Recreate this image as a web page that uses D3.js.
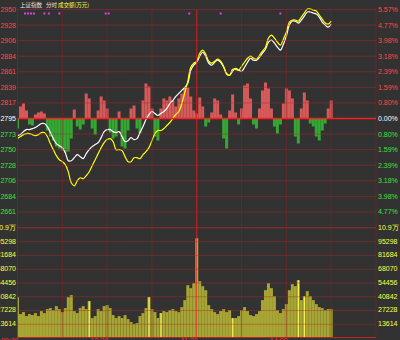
<!DOCTYPE html>
<html>
<head>
<meta charset="utf-8">
<script src="https://cdn.jsdelivr.net/npm/d3@7"></script>
<style>
html, body { margin: 0; padding: 0; background: #323232; }
svg { display: block; }
</style>
</head>
<body>
<svg id="chart"></svg>
<script>
// one sample every 2 minutes from 9:30 (trading minutes, lunch removed)
const stepMin = 2;

const whiteLine = [
    2770.6, 2772.0, 2776.3, 2779.2, 2779.2, 2780.6, 2782.1, 2785.0, 2787.8, 2787.8,
    2783.5, 2774.9, 2766.3, 2759.1, 2756.2, 2753.4, 2746.2, 2734.7, 2734.7, 2739.0,
    2743.3, 2740.5, 2737.6, 2744.8, 2750.5, 2754.8, 2757.7, 2760.5, 2767.7, 2776.3,
    2779.2, 2779.2, 2776.3, 2774.9, 2776.3, 2769.2, 2762.0, 2763.4, 2767.7, 2764.9,
    2766.3, 2774.9, 2783.5, 2793.6, 2800.7, 2805.0, 2802.2, 2799.3, 2802.2, 2805.0,
    2809.4, 2816.5, 2820.8, 2826.6, 2830.9, 2835.2, 2839.5, 2845.2, 2863.9, 2871.1,
    2875.4, 2884.0, 2889.7, 2884.0, 2874.0, 2871.1, 2875.4, 2878.3, 2875.4, 2868.2,
    2859.6, 2856.7, 2862.5, 2866.8, 2863.9, 2862.5, 2868.2, 2875.4, 2881.1, 2878.3,
    2878.3, 2882.6, 2888.3, 2894.0, 2904.1, 2907.0, 2902.7, 2896.9, 2892.6, 2901.2,
    2912.7, 2928.5, 2934.2, 2934.2, 2931.4, 2935.7, 2941.4, 2947.2, 2947.2, 2945.7,
    2944.3, 2940.0, 2932.8, 2928.5, 2925.6, 2929.9
];

const yellowLine = [
    2766.3, 2769.2, 2772.0, 2773.5, 2773.5, 2772.0, 2770.6, 2772.0, 2774.9, 2774.9,
    2769.2, 2759.1, 2750.5, 2741.9, 2736.1, 2733.3, 2729.0, 2718.9, 2703.1, 2698.8,
    2706.0, 2710.3, 2708.9, 2713.2, 2718.9, 2727.5, 2736.1, 2744.8, 2753.4, 2760.5,
    2764.9, 2766.3, 2762.0, 2750.5, 2750.5, 2749.1, 2740.5, 2733.3, 2733.3, 2739.0,
    2739.0, 2737.6, 2743.3, 2747.6, 2753.4, 2763.4, 2773.5, 2777.8, 2777.8, 2780.6,
    2785.0, 2789.3, 2795.0, 2800.7, 2805.0, 2816.5, 2832.3, 2848.1, 2868.2, 2874.0,
    2876.8, 2888.3, 2892.6, 2886.9, 2876.8, 2874.0, 2876.8, 2879.7, 2876.8, 2869.6,
    2858.2, 2856.7, 2865.3, 2865.3, 2863.9, 2869.6, 2875.4, 2881.1, 2884.0, 2881.1,
    2879.7, 2885.4, 2891.2, 2896.9, 2909.8, 2914.1, 2909.8, 2904.1, 2899.8, 2908.4,
    2918.5, 2932.8, 2935.7, 2935.7, 2934.2, 2940.0, 2945.7, 2951.5, 2951.5, 2950.0,
    2948.6, 2942.9, 2937.1, 2931.4, 2929.9, 2934.2
];

// red (buy) / green (sell) strength bars around the zero line
const power = [
    -10, 12, 15, 8, -6, -7, 4, 6, 7, 5,
    -12, -18, -22, -28, -30, -32, -34, -33, -20, 9,
    -8, -11, -6, 25, 20, -10, -16, 8, 22, 18,
    10, -14, -20, -18, 7, -28, -30, -12, 10, 13,
    -10, -15, 18, 35, 32, 10, -18, -22, 10, 20,
    18, 22, 18, 12, 20, 25, 30, 31, 22, 8,
    5, 21, 12, -8, -4, 6, 20, 18, 4, -20,
    -30, 8, 24, 6, -6, 10, 33, 35, 20, -6,
    -10, 10, 28, 36, 30, 10, -8, -15, -6, 15,
    30, 28, 20, -18, -25, 10, 26, 18, -5, -8,
    -18, -22, -12, -5, 10, 18
];

const volume = [
    39950, 23180, 25150, 21200, 23180, 22200, 24170, 21200, 26140, 24170,
    28100, 29100, 27130, 31070, 28100, 25150, 29100, 39950, 41930, 26140,
    24170, 29100, 31070, 28100, 36000, 19240, 21200, 28100, 26140, 31070,
    32060, 29100, 22200, 19240, 21200, 19240, 22200, 18250, 15290, 13320,
    14300, 21200, 24170, 29100, 39950, 28100, 25150, 19240, 24170, 26140,
    25150, 27130, 28100, 26140, 25150, 30090, 36990, 51790, 48830, 53760,
    98160, 55740, 50800, 46860, 32060, 28100, 25150, 23180, 26140, 28100,
    25150, 27130, 19240, 19240, 21200, 27130, 30090, 26140, 22200, 21200,
    23180, 26140, 36990, 46860, 53760, 48830, 40940, 27130, 24170, 28100,
    33050, 46860, 52780, 50800, 56720, 36990, 40940, 45870, 40940, 36990,
    33050, 30090, 29100, 27130, 28100, 28100
];

const brightBars = [24, 44, 48, 60, 72, 94, 96];        // highlighted volume bars (sample index)
const newsMarks = [5, 7, 9, 11, 18, 21, 28, 59, 61, 115, 136, 176]; // minutes

const priceLabels = ["2950", "2928", "2906", "2884", "2861", "2839", "2817", "2795",
    "2773", "2750", "2728", "2706", "2684", "2661"];
const pctLabels = ["5.57%", "4.77%", "3.98%", "3.18%", "2.39%", "1.59%", "0.80%", "0.00%",
    "0.80%", "1.59%", "2.39%", "3.18%", "3.98%", "4.77%"];
const volLabels = ["10.9万", "95298", "81684", "68070", "54456", "40842", "27228", "13614"];
const timeLabels = ["09:30", "10:30", "11:30", "14:00"];
const timeTicks = [0, 60, 120, 180];

const preClose = 2795;
const gridStep = 22.25;
const volStep = 13614;

const W = 400, H = 340;
const left = 17.5, right = 376;
const priceTop = 9.5, priceBottom = 227.5, volBottom = 337.5;
const font = "'Liberation Sans', Arial, sans-serif";

const svg = d3.select("#chart").attr("width", W).attr("height", H);
svg.append("rect").attr("width", W).attr("height", H).attr("fill", "#323232");

const x = d3.scaleLinear().domain([0, 240]).range([left, right]);
const y = d3.scaleLinear()
    .domain([preClose - 7 * gridStep, preClose + 7 * gridStep])
    .range([priceBottom, priceTop]);
const yPow = d3.scaleLinear().domain([-109, 109]).range([priceBottom, priceTop]);
const yVol = d3.scaleLinear().domain([0, 8 * volStep]).range([volBottom, priceBottom]);
const barW = x(stepMin) - x(0);

svg.append("clipPath").attr("id", "plot")
    .append("rect").attr("x", left).attr("y", 0).attr("width", right - left).attr("height", H);

const plot = svg.append("g").attr("clip-path", "url(#plot)");

// power bars
plot.append("g").selectAll("rect")
    .data(power)
    .join("rect")
    .attr("x", (d, i) => x(i * stepMin) - barW / 2)
    .attr("width", barW)
    .attr("y", d => d > 0 ? yPow(d) : yPow(0))
    .attr("height", d => Math.abs(yPow(d) - yPow(0)))
    .attr("fill", d => d > 0 ? "#d65a5a" : "#33a833");

// volume bars
plot.append("g").selectAll("rect")
    .data(volume)
    .join("rect")
    .attr("x", (d, i) => x(i * stepMin) - barW / 2)
    .attr("width", barW)
    .attr("y", d => yVol(d))
    .attr("height", d => yVol(0) - yVol(d))
    .attr("fill", "#a7a534");

plot.append("g").selectAll("rect")
    .data(brightBars)
    .join("rect")
    .attr("x", i => x(i * stepMin) - 0.5)
    .attr("width", 1.2)
    .attr("y", i => yVol(volume[i]))
    .attr("height", i => yVol(0) - yVol(volume[i]))
    .attr("fill", "#f4f050");

// grid
const grid = svg.append("g").attr("fill", "none");
d3.range(15).forEach(k => {
    if (k === 7) return;
    grid.append("line")
        .attr("x1", left).attr("x2", right)
        .attr("y1", y(preClose + (7 - k) * gridStep)).attr("y2", y(preClose + (7 - k) * gridStep))
        .attr("stroke", "#b82626").attr("stroke-dasharray", "1,1").attr("opacity", 0.9);
});
d3.range(1, 9).forEach(k => {
    grid.append("line")
        .attr("x1", left).attr("x2", right)
        .attr("y1", yVol(k * volStep) + 0.5).attr("y2", yVol(k * volStep) + 0.5)
        .attr("stroke", "#b82626").attr("stroke-dasharray", "1,1").attr("opacity", 0.85);
});
grid.append("line")
    .attr("x1", left).attr("x2", right).attr("y1", volBottom).attr("y2", volBottom)
    .attr("stroke", "#b82626");
d3.range(0, 241, 30).forEach(m => {
    grid.append("line")
        .attr("x1", x(m)).attr("x2", x(m)).attr("y1", priceTop).attr("y2", volBottom)
        .attr("stroke", m === 120 ? "#d42020" : "#8e2222")
        .attr("stroke-dasharray", m === 120 ? null : "1,1");
});
grid.append("line")
    .attr("x1", left).attr("x2", right).attr("y1", y(preClose)).attr("y2", y(preClose))
    .attr("stroke", "#ff1e1e").attr("stroke-width", 1.6);

// price lines
const line = d3.line()
    .x((d, i) => x(i * stepMin))
    .y(d => y(d))
    .curve(d3.curveCatmullRom.alpha(0.5));

plot.append("path").datum(whiteLine)
    .attr("d", line).attr("fill", "none").attr("stroke", "#ffffff").attr("stroke-width", 1.2);
plot.append("path").datum(yellowLine)
    .attr("d", line).attr("fill", "none").attr("stroke", "#ffff00").attr("stroke-width", 1.2);

// news markers
svg.append("g").selectAll("rect")
    .data(newsMarks)
    .join("rect")
    .attr("x", m => x(m) - 1).attr("y", 12.5)
    .attr("width", 2).attr("height", 2)
    .attr("fill", "#e040e0");

// axis labels
const labelColor = k => k < 7 ? "#ff4848" : k === 7 ? "#ffffff" : "#3ee03e";
const axes = svg.append("g").style("font-family", font).style("font-size", "7px");

axes.selectAll(".pl").data(priceLabels).join("text")
    .attr("x", 16).attr("y", (d, k) => y(preClose + (7 - k) * gridStep))
    .attr("dy", "0.35em").attr("text-anchor", "end")
    .attr("fill", (d, k) => labelColor(k)).text(d => d);

axes.selectAll(".pr").data(pctLabels).join("text")
    .attr("x", 378).attr("y", (d, k) => y(preClose + (7 - k) * gridStep))
    .attr("dy", "0.35em")
    .attr("fill", (d, k) => labelColor(k)).text(d => d);

axes.selectAll(".vl").data(volLabels).join("text")
    .attr("x", 16).attr("y", (d, k) => yVol((8 - k) * volStep))
    .attr("dy", "0.35em").attr("text-anchor", "end")
    .attr("fill", "#ffff40").text(d => d);

axes.selectAll(".vr").data(volLabels).join("text")
    .attr("x", 378).attr("y", (d, k) => yVol((8 - k) * volStep))
    .attr("dy", "0.35em")
    .attr("fill", "#ffff40").text(d => d);

axes.selectAll(".tl").data(timeLabels).join("text")
    .attr("x", (d, k) => x(timeTicks[k]) + 1).attr("y", 343)
    .attr("text-anchor", "end")
    .attr("fill", "#ff3030").text(d => d);

// header
const head = svg.append("g")
    .style("font-family", "'Noto Sans CJK SC', sans-serif")
    .style("font-size", "5.5px");
head.append("text").attr("x", 20).attr("y", 7).attr("fill", "#e8e8e8").text("上证指数");
head.append("text").attr("x", 46).attr("y", 7).attr("fill", "#e8e8e8").text("分时");
head.append("text").attr("x", 58).attr("y", 7).attr("fill", "#ffff40").text("成交额(万元)");
</script>
</body>
</html>
